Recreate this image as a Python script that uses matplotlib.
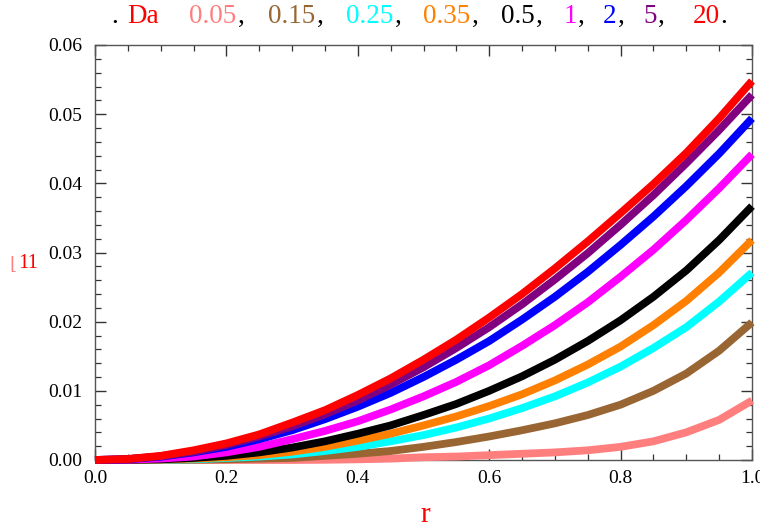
import matplotlib
matplotlib.use("Agg")
import matplotlib.pyplot as plt
from matplotlib.ticker import MultipleLocator, FormatStrFormatter

plt.rcParams['font.family'] = ['Liberation Serif', 'DejaVu Serif']

# radial positions
r = [0.0, 0.05, 0.1, 0.15, 0.2, 0.25, 0.3, 0.35, 0.4, 0.45, 0.5,
     0.55, 0.6, 0.65, 0.7, 0.75, 0.8, 0.85, 0.9, 0.95, 1.0]

# profiles for each Damkohler number
da_labels = ["0.05", "0.15", "0.25", "0.35", "0.5", "1", "2", "5", "20"]
colors = ["#ff7f7f", "#996633", "#00ffff", "#ff8000", "#000000",
          "#ff00ff", "#0000ff", "#800080", "#ff0000"]

da_005 = [0.0, 0.0, 0.0, 0.0, 0.0, 0.0, 0.0, 0.00003, 0.0001, 0.0002, 0.0004,
          0.0005, 0.0007, 0.0009, 0.0011, 0.0014, 0.0019, 0.0027, 0.0040, 0.0058, 0.0086]
da_015 = [0.0, 0.0, 0.0, 0.00005, 0.0001, 0.0002, 0.0003, 0.0006, 0.0009, 0.0013, 0.0019,
          0.0026, 0.0034, 0.0043, 0.0053, 0.0065, 0.0080, 0.0100, 0.0125, 0.0158, 0.0199]
da_025 = [0.0, 0.0, 0.00003, 0.0001, 0.0003, 0.0005, 0.0008, 0.0013, 0.0019, 0.0027, 0.0036,
          0.0047, 0.0060, 0.0075, 0.0092, 0.0112, 0.0135, 0.0162, 0.0192, 0.0229, 0.0271]
da_035 = [0.0, 0.00001, 0.00005, 0.0002, 0.0004, 0.0007, 0.0012, 0.0019, 0.0028, 0.0038, 0.0050,
          0.0063, 0.0078, 0.0095, 0.0115, 0.0138, 0.0164, 0.0195, 0.0230, 0.0271, 0.0318]
da_05 = [0.0, 0.00002, 0.0001, 0.0003, 0.0006, 0.0011, 0.0018, 0.0027, 0.0038, 0.0050, 0.0065,
         0.0081, 0.0100, 0.0121, 0.0145, 0.0172, 0.0202, 0.0236, 0.0274, 0.0318, 0.0367]
da_1 = [0.0, 0.00005, 0.0002, 0.0005, 0.0011, 0.0019, 0.0030, 0.0042, 0.0056, 0.0073, 0.0092,
        0.0113, 0.0137, 0.0165, 0.0195, 0.0228, 0.0265, 0.0304, 0.0347, 0.0393, 0.0442]
da_2 = [0.0, 0.00012, 0.00048, 0.0011, 0.0019, 0.0030, 0.0043, 0.0059, 0.0077, 0.0097, 0.0120,
        0.0145, 0.0172, 0.0203, 0.0236, 0.0272, 0.0311, 0.0352, 0.0396, 0.0443, 0.0494]
da_5 = [0.0, 0.00014, 0.00053, 0.0012, 0.00216, 0.0034, 0.00485, 0.0066, 0.0086, 0.0109, 0.0134,
        0.0162, 0.0192, 0.0225, 0.0261, 0.0299, 0.0340, 0.0383, 0.0429, 0.0477, 0.0528]
da_20 = [0.0, 0.00015, 0.0006, 0.0014, 0.0024, 0.0037, 0.0054, 0.0072, 0.0094, 0.0118, 0.0145,
         0.0174, 0.0206, 0.0240, 0.0277, 0.0316, 0.0357, 0.0399, 0.0444, 0.0494, 0.0548]

series = [da_005, da_015, da_025, da_035, da_05, da_1, da_2, da_5, da_20]

W, H = 760, 530
fig = plt.figure(figsize=(W / 100, H / 100), dpi=100)
ax = fig.add_axes([95 / W, 1 - 460 / H, 657 / W, 415 / H])

for vals, c in zip(series, colors):
    ax.plot(r, vals, color=c, lw=5.6, solid_capstyle='butt', solid_joinstyle='round',
            clip_on=False, zorder=3)

ax.set_xlim(0, 1)
ax.set_ylim(0, 0.06)
ax.xaxis.set_major_locator(MultipleLocator(0.2))
ax.xaxis.set_minor_locator(MultipleLocator(0.05))
ax.yaxis.set_major_locator(MultipleLocator(0.01))
ax.yaxis.set_minor_locator(MultipleLocator(0.002))
ax.xaxis.set_major_formatter(FormatStrFormatter('%.1f'))
ax.yaxis.set_major_formatter(FormatStrFormatter('%.2f'))

for s in ax.spines.values():
    s.set_color('#555555')
    s.set_linewidth(1.0)
ax.tick_params(which='both', direction='in', top=True, right=True,
               color='#333333', labelsize=14)
ax.tick_params(which='major', length=8, width=1.0, pad=9)
ax.tick_params(axis='x', which='major', pad=7)
ax.tick_params(which='minor', length=4.5, width=0.9)

# axis labels
fig.text(425 / W, 1 - 522 / H, 'r', color='#ff0000', fontsize=21, ha='center', va='baseline')
fig.text(13 / W, 1 - 265 / H, '\u230a', color='#ff8080', fontsize=13, ha='center', va='center')
fig.text(28 / W, 1 - 264 / H, '11', color='#ff0000', fontsize=15, ha='center', va='center')

# header listing the Damkohler numbers in their line colours
fs = 19.5
y_base = 1 - 23 / H
fig.text(115 / W, y_base, '.', color='black', fontsize=fs, ha='center', va='baseline')
fig.text(143 / W, y_base, 'Da', color='#ff0000', fontsize=fs, ha='center', va='baseline')
xs = [213, 292, 370, 447, 518, 570, 610, 650, 706]
renderer = fig.canvas.get_renderer()
for i, (lab, c, x) in enumerate(zip(da_labels, colors, xs)):
    t = fig.text(x / W, y_base, lab, color=c, fontsize=fs, ha='center', va='baseline')
    bb = t.get_window_extent(renderer)
    sep = ',' if i < len(da_labels) - 1 else '.'
    fig.text((bb.x1 + 1) / W, y_base, sep, color='black', fontsize=fs,
             ha='left', va='baseline')

fig.savefig('out.png', dpi=100, facecolor='white')
